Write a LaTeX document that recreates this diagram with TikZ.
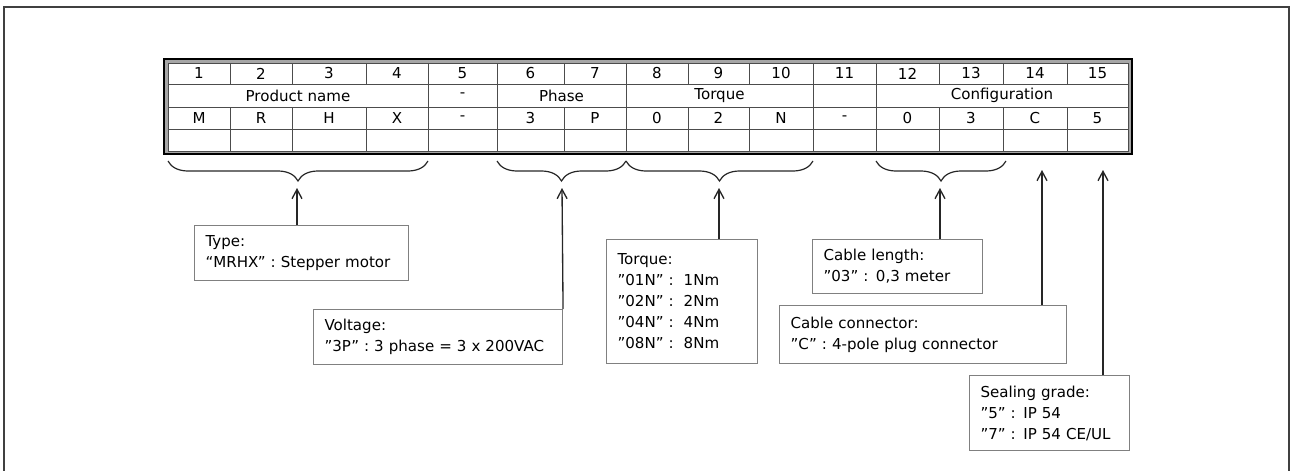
\documentclass[tikz,border=0pt]{standalone}
\usepackage{fontspec}
\setmainfont{DejaVu Sans}
\usetikzlibrary{decorations.pathreplacing,arrows.meta}
\begin{document}
\begin{tikzpicture}[x=0.75pt,y=-0.75pt,
  txt/.style={font=\fontsize{11.3pt}{15.75pt}\selectfont},
  cell/.style={txt, draw=black!70, line width=0.7pt, inner sep=0pt, text=black},
  infobox/.style={txt, draw=black!50, line width=0.8pt, anchor=north west, align=left,
    inner xsep=8.25pt, inner ysep=0pt, fill=white},
  bracestyle/.style={draw=black!85, line width=0.9pt, decorate,
    decoration={brace, mirror, amplitude=15pt}},
  arr/.style={draw=black!85, line width=1pt, -{Straight Barb[length=7pt,width=7.5pt]}},
  frame/.style={draw=black!75, line width=1.5pt}
]
\useasboundingbox (0,0) rectangle (1290,471);
% outer frame (open at the bottom)
\draw[frame] (4,471) -- (4,7) -- (1289,7) -- (1289,471);

% table double border
\fill[black!35] (164,59) rectangle (1132,154);
\draw[black, line width=2.2pt] (164,59) rectangle (1132,154);
\fill[white] (168,63) rectangle (1128,151);

% rows 1, 3, 4
\foreach \a/\b/\v [count=\i] in {168/230/M,230/292/R,292/366/H,366/428/X,428/497/-,497/564/3,564/626/P,626/688/0,688/749/2,749/813/N,813/876/-,876/939/0,939/1003/3,1003/1067/C,1067/1128/5}
{
  \node[cell, minimum width={(\b-\a)*0.75pt}, minimum height=15.75pt] (num\i) at ({(\a+\b)/2},73.5) {\i};
  \node[cell, minimum width={(\b-\a)*0.75pt}, minimum height=16.5pt] (val\i) at ({(\a+\b)/2},118) {\v};
  \node[cell, minimum width={(\b-\a)*0.75pt}, minimum height=16.5pt] (emp\i) at ({(\a+\b)/2},140) {};
}
% row 2 (merged cells)
\node[cell, minimum width=195pt, minimum height=17.25pt] (pname) at (298,95.5) {Product name};
\node[cell, minimum width=51.75pt, minimum height=17.25pt] (dash5) at (462.5,95.5) {-};
\node[cell, minimum width=96.75pt, minimum height=17.25pt] (phase) at (561.5,95.5) {Phase};
\node[cell, minimum width=140.25pt, minimum height=17.25pt] (torque) at (719.5,95.5) {Torque};
\node[cell, minimum width=47.25pt, minimum height=17.25pt] (blank11) at (844.5,95.5) {};
\node[cell, minimum width=189pt, minimum height=17.25pt] (config) at (1002,95.5) {Configuration};

% redraw the inner border on top
\draw[black!70, line width=0.7pt] (168,63) rectangle (1128,151);

% braces
\draw[bracestyle] (168,161) -- (428,161);
\draw[bracestyle] (497,161) -- (626,161);
\draw[bracestyle] (626,161) -- (813,161);
\draw[bracestyle] (876,161) -- (1006,161);

% arrow targets
\coordinate (tip1) at (297,188);
\coordinate (tip2) at (562,188);
\coordinate (tip3) at (719,188);
\coordinate (tip4) at (940,188);
\coordinate (tip5) at (1042,170);
\coordinate (tip6) at (1103,170);

% info boxes
\node[infobox, text width=144pt, minimum height=41.25pt] (typebox) at (194,225)
  {Type:\\“MRHX” : Stepper motor};
\node[infobox, text width=170.25pt, minimum height=41.25pt] (voltbox) at (313,309)
  {Voltage:\\”3P” : 3 phase = 3 x 200VAC};
\node[infobox, text width=96.75pt, minimum height=93pt] (torquebox) at (606,239)
  {Torque:\\”01N”~:~~1Nm\\”02N”~:~~2Nm\\”04N”~:~~4Nm\\”08N”~:~~8Nm};
\node[infobox, text width=111pt, minimum height=40.5pt] (lenbox) at (812,239)
  {Cable length:\\”03” : 0,3 meter};
\node[infobox, text width=198.75pt, minimum height=43.5pt] (connbox) at (779,305)
  {Cable connector:\\”C” : 4-pole plug connector};
\node[infobox, text width=103.5pt, minimum height=56.25pt] (sealbox) at (969,375)
  {Sealing grade:\\”5” : IP 54\\”7” : IP 54 CE/UL};

% connectors
\draw[arr] (typebox.north -| tip1) -- (tip1);
\draw[arr] (voltbox.north east) -- (tip2);
\draw[arr] (torquebox.north -| tip3) -- (tip3);
\draw[arr] (lenbox.north -| tip4) -- (tip4);
\draw[arr] (connbox.north -| tip5) -- (tip5);
\draw[arr] (sealbox.north -| tip6) -- (tip6);
\end{tikzpicture}
\end{document}
